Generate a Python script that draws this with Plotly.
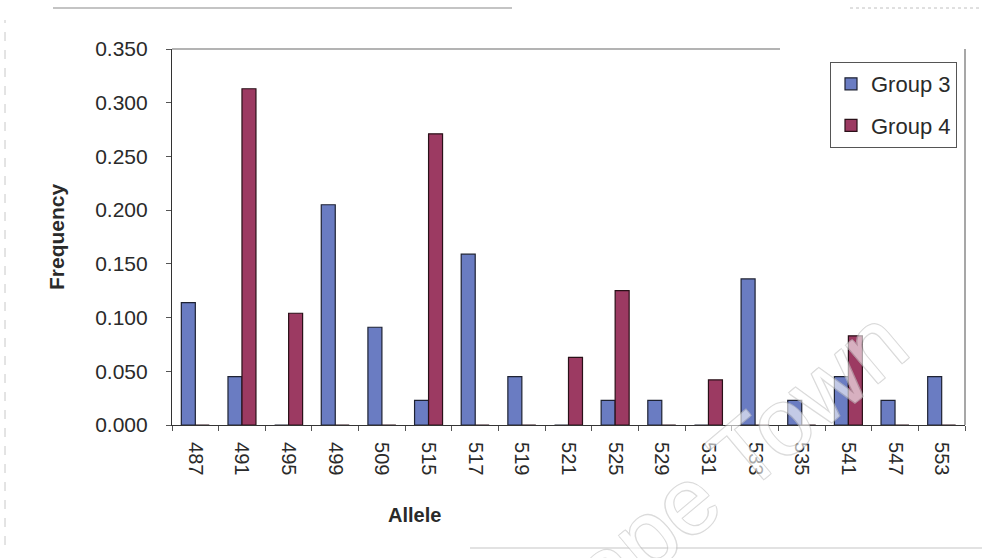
import plotly.graph_objects as go

# Allele frequencies per group
alleles = ["487", "491", "495", "499", "509", "515", "517", "519", "521",
           "525", "529", "531", "533", "535", "541", "547", "553"]
group3 = [0.114, 0.045, 0.000, 0.205, 0.091, 0.023, 0.159, 0.045, 0.000,
          0.023, 0.023, 0.000, 0.136, 0.023, 0.045, 0.023, 0.045]
group4 = [0.000, 0.313, 0.104, 0.000, 0.000, 0.271, 0.000, 0.000, 0.063,
          0.125, 0.000, 0.042, 0.000, 0.000, 0.083, 0.000, 0.000]
y_ticks = [0.0, 0.05, 0.10, 0.15, 0.20, 0.25, 0.30, 0.35]

W, H = 982, 558
L, R, T, B = 172, 17, 49, 133
PW, PH = W - L - R, H - T - B
FONT = "Liberation Sans, Arial, sans-serif"
TEXT = "#2a2a2a"


def fx(px):
    """pixel x -> paper x"""
    return (px - L) / PW


def fy(py):
    """pixel y -> paper y"""
    return (H - B - py) / PH


fig = go.Figure()
fig.add_trace(go.Bar(
    x=alleles, y=group3, name="Group 3", legendgroup="g3",
    marker=dict(color="#6a7cc2", line=dict(color="#1e2233", width=1.2)),
))
fig.add_trace(go.Bar(
    x=alleles, y=group4, name="Group 4", legendgroup="g4",
    marker=dict(color="#9c3a62", line=dict(color="#2a1018", width=1.2)),
))

shapes = [
    # plot frame: top and right edges in grey
    dict(type="line", xref="paper", yref="paper", x0=0, x1=fx(780),
         y0=1, y1=1, line=dict(color="#9a9a9a", width=1.5)),
    dict(type="line", xref="paper", yref="paper", x0=1.0, x1=1.0,
         y0=0, y1=1, line=dict(color="#8a8a8a", width=1.5)),
    # outer chart border
    dict(type="line", xref="paper", yref="paper", x0=fx(53), x1=fx(512),
         y0=fy(8), y1=fy(8), line=dict(color="#b0b0b0", width=1.5)),
    dict(type="line", xref="paper", yref="paper", x0=fx(850), x1=fx(980),
         y0=fy(8), y1=fy(8), line=dict(color="#c0c0c0", width=1, dash="dot")),
    dict(type="line", xref="paper", yref="paper", x0=fx(5), x1=fx(5),
         y0=fy(545), y1=fy(20), line=dict(color="#c8c8c8", width=1, dash="dash")),
    dict(type="line", xref="paper", yref="paper", x0=fx(470), x1=fx(982),
         y0=fy(548), y1=fy(548), line=dict(color="#d8d8d8", width=1.5)),
]

fig.update_layout(
    width=W, height=H,
    margin=dict(l=L, r=R, t=T, b=B, pad=0),
    paper_bgcolor="white", plot_bgcolor="white",
    barmode="group", bargap=0.4, bargroupgap=0,
    font=dict(family=FONT, color=TEXT, size=20),
    showlegend=True,
    legend=dict(
        x=fx(957), xanchor="right",
        y=fy(62), yanchor="top",
        bgcolor="white", bordercolor="#555555", borderwidth=1,
        font=dict(family=FONT, size=22, color=TEXT),
        tracegroupgap=10, itemwidth=30,
    ),
    xaxis=dict(
        type="category", showgrid=False, showline=True,
        linecolor="#333333", linewidth=1.2,
        ticks="outside", tickson="boundaries", ticklen=5, tickcolor="#555555",
        tickangle=90, tickfont=dict(family=FONT, size=20, color=TEXT),
        ticklabelstandoff=12,
    ),
    yaxis=dict(
        range=[0, 0.35], tickvals=y_ticks, tickformat=".3f",
        showgrid=False, showline=True, zeroline=False,
        linecolor="#333333", linewidth=1.2,
        ticks="outside", ticklen=5, tickcolor="#555555",
        tickfont=dict(family=FONT, size=21, color=TEXT),
        ticklabelstandoff=14,
    ),
    shapes=shapes,
    annotations=[
        dict(text="<b>Frequency</b>", textangle=-90, xref="paper", yref="paper",
             x=fx(56), y=0.5, xanchor="center", yanchor="middle", showarrow=False,
             font=dict(family=FONT, size=21, color=TEXT)),
        dict(text="<b>Allele</b>", xref="paper", yref="paper",
             x=fx(414), y=fy(515), xanchor="center", yanchor="middle",
             showarrow=False,
             font=dict(family="Liberation Sans Narrow, Liberation Sans, Arial",
                       size=20, color=TEXT)),
        # faint diagonal watermark
        dict(text="Cape Town", textangle=-40, xref="paper", yref="paper",
             x=fx(713), y=fy(480), xanchor="center", yanchor="middle",
             showarrow=False, opacity=0.6,
             font=dict(family=FONT, size=94, color="white",
                       shadow="1px 1px 0 #c4c4c4, -1px -1px 0 #c4c4c4, "
                              "1px -1px 0 #c4c4c4, -1px 1px 0 #c4c4c4")),
    ],
)

fig.write_html("out.html")
